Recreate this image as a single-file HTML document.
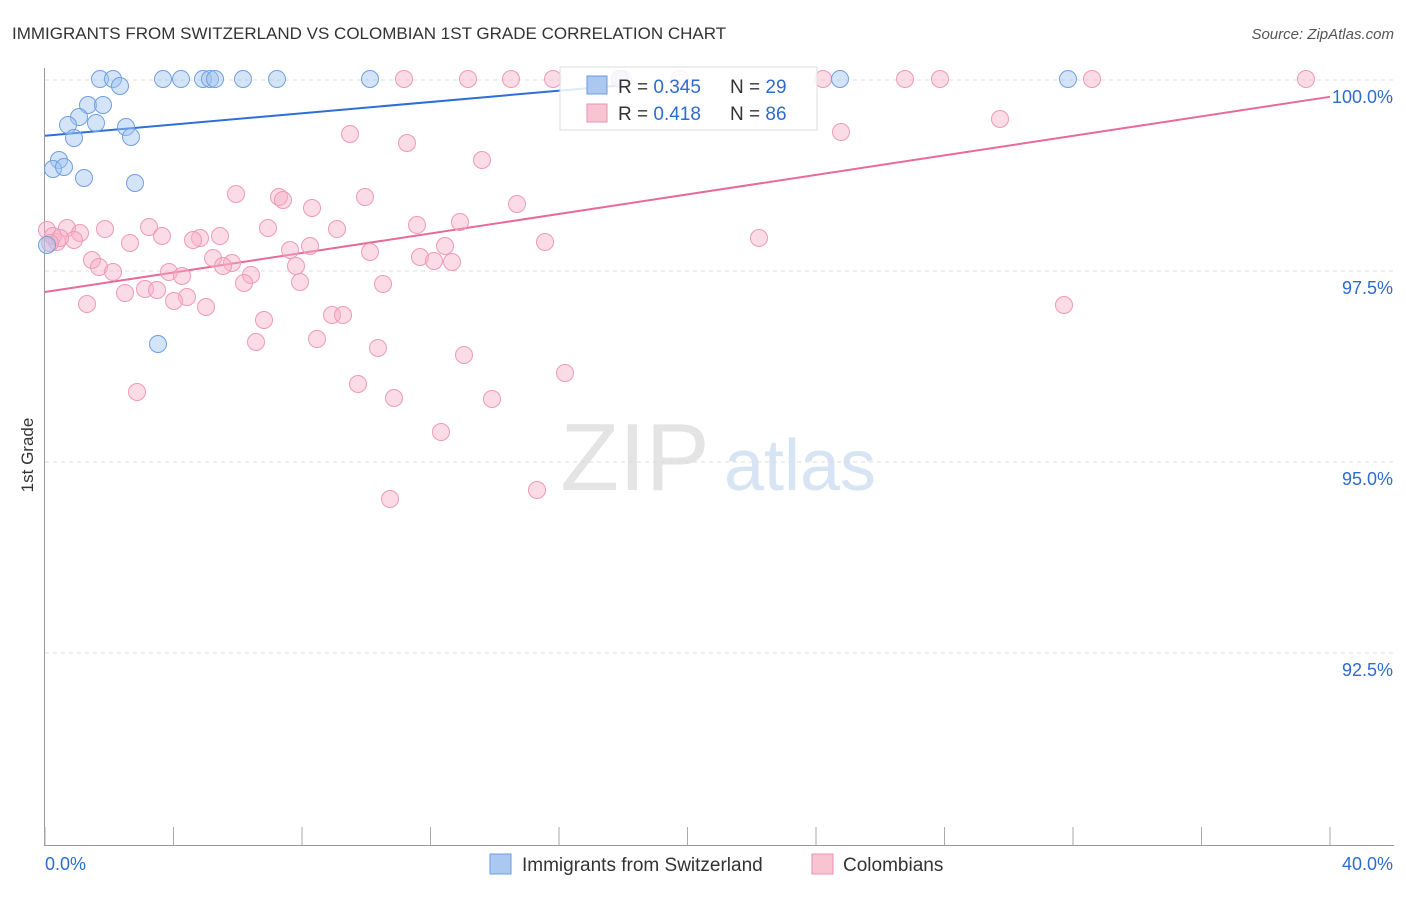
<!DOCTYPE html>
<html><head><meta charset="utf-8"><style>
body{margin:0;background:#fff;font-family:"Liberation Sans",sans-serif}
svg text{font-family:"Liberation Sans",sans-serif}
</style></head><body>
<svg id="c" width="1406" height="892" xmlns="http://www.w3.org/2000/svg">
<text x="12" y="39" font-size="17" fill="#333">IMMIGRANTS FROM SWITZERLAND VS COLOMBIAN 1ST GRADE CORRELATION CHART</text>
<text x="1394" y="39" font-size="15" fill="#555" text-anchor="end" font-style="italic">Source: ZipAtlas.com</text>
<text x="33" y="455" font-size="17" fill="#333" transform="rotate(-90 33 455)" text-anchor="middle">1st Grade</text>
<g><text x="635" y="490" font-size="96" fill="#e4e4e4" text-anchor="middle" font-family="Liberation Serif,serif">ZIP</text><text x="800" y="490" font-size="72" fill="#d6e4f4" text-anchor="middle">atlas</text></g>
<g id="grid"></g><g id="axes"></g><g id="lines"></g><g id="pts"></g>
<g>
<rect x="560" y="67" width="257" height="63" fill="#fff" fill-opacity="0.85" stroke="#ddd"/>
<rect x="587" y="76" width="20" height="18" fill="#aac8f0" stroke="#6a9be0"/>
<rect x="587" y="104" width="20" height="18" fill="#f8c4d4" stroke="#ee90ae"/>
<text x="618" y="93" font-size="19" fill="#333">R = <tspan fill="#2e6bd1">0.345</tspan></text>
<text x="730" y="93" font-size="19" fill="#333">N = <tspan fill="#2e6bd1">29</tspan></text>
<text x="618" y="120" font-size="19" fill="#333">R = <tspan fill="#2e6bd1">0.418</tspan></text>
<text x="730" y="120" font-size="19" fill="#333">N = <tspan fill="#2e6bd1">86</tspan></text>
</g>
<g>
<rect x="490" y="854" width="21" height="20" fill="#aac8f0" stroke="#6a9be0"/>
<text x="522" y="871" font-size="19" fill="#333">Immigrants from Switzerland</text>
<rect x="812" y="854" width="21" height="20" fill="#f8c4d4" stroke="#ee90ae"/>
<text x="843" y="871" font-size="19" fill="#333">Colombians</text>
</g>
</svg>
<script>
const yTicks=[100,97.5,95,92.5];
const yTickLabels=["100.0%","97.5%","95.0%","92.5%"];
const xTickLabels=["0.0%","40.0%"];
const blueX=[100,113,163,181,203,210,215,243,277,370,620,840,1068,120,88,103,79,68,96,126,74,131,59,53,64,84,135,47,158];
const blueY=[79,79,79,79,79,79,79,79,79,79,79,79,79,86,105,105,117,125,123,127,138,137,160,169,167,178,183,245,344];
const pinkX=[404,468,511,553,623,680,823,905,940,1092,1306,350,407,841,1000,482,236,279,283,365,312,517,417,460,149,67,268,337,47,80,105,162,200,220,193,545,759,130,74,57,53,290,310,370,445,420,92,213,232,99,113,169,182,223,296,434,452,251,244,300,383,145,157,125,187,174,87,206,1064,264,332,343,256,317,378,464,565,358,137,394,492,441,390,537,60,50];
const pinkY=[79,79,79,79,79,79,79,79,79,79,79,134,143,132,119,160,194,197,200,197,208,204,225,222,227,228,228,229,230,233,229,236,238,236,240,242,238,243,240,242,236,250,246,252,246,257,260,258,263,267,272,272,276,266,266,261,262,275,283,282,284,289,290,293,297,301,304,307,305,320,315,315,342,339,348,355,373,384,392,398,399,432,499,490,238,243];
const toXv=p=>(p-45)/1285*40, toYv=p=>100-(p-80)/191*2.5;
const blueXv=blueX.map(toXv), blueYv=blueY.map(toYv), pinkXv=pinkX.map(toXv), pinkYv=pinkY.map(toYv);
const blueTrend=[0,99.27,17.9,99.93];
const pinkTrend=[0,97.225,40,99.78];
const X=v=>45+v/40*1285, Y=v=>80+(100-v)/2.5*191;
const NS="http://www.w3.org/2000/svg";
function mk(t,a,p){const e=document.createElementNS(NS,t);for(const k in a)e.setAttribute(k,a[k]);document.getElementById(p).appendChild(e);return e;}
yTicks.forEach((v,i)=>{
 const g=mk('line',{x1:45,x2:1394,y1:Y(v),y2:Y(v),stroke:'#ddd','stroke-dasharray':'4,4'},'grid');
 
 
 const t=mk('text',{x:1393,y:Y(v)+23,'font-size':18,fill:'#2e6bd1','text-anchor':'end'},'axes');t.textContent=yTickLabels[i];
 
 
});
mk('line',{x1:44.5,x2:44.5,y1:68,y2:845,stroke:'#999'},'axes');
mk('line',{x1:44,x2:1394,y1:845.5,y2:845.5,stroke:'#999'},'axes');
for(let i=0;i<=10;i++){const l=mk('line',{x1:X(i*4),x2:X(i*4),y1:827,y2:845,stroke:'#aaa'},'axes');
 
 }
[[45,'start'],[1393,'end']].forEach((a,i)=>{const t=mk('text',{x:a[0],y:870,'font-size':18,fill:'#2e6bd1','text-anchor':a[1]},'axes');t.textContent=xTickLabels[i];
 
 });
pinkXv.forEach((v,i)=>{const c=mk('circle',{cx:X(v),cy:Y(pinkYv[i]),r:8.5,fill:'rgba(246,176,200,0.45)',stroke:'#ee9ab6','stroke-width':1},'pts');
 
 });
blueXv.forEach((v,i)=>{const c=mk('circle',{cx:X(v),cy:Y(blueYv[i]),r:8.5,fill:'rgba(160,195,240,0.45)',stroke:'#6f9fe0','stroke-width':1},'pts');
 
 });
const bl=mk('line',{x1:X(blueTrend[0]),y1:Y(blueTrend[1]),x2:X(blueTrend[2]),y2:Y(blueTrend[3]),stroke:'#2d6fd6','stroke-width':2},'lines');


const pl=mk('line',{x1:X(pinkTrend[0]),y1:Y(pinkTrend[1]),x2:X(pinkTrend[2]),y2:Y(pinkTrend[3]),stroke:'#e86a98','stroke-width':2},'lines');


</script>
</body></html>
